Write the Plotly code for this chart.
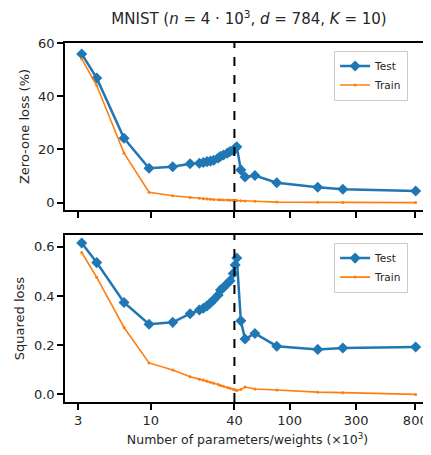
import plotly.graph_objects as go
from plotly.subplots import make_subplots

# Data (parameters in thousands)
params = [3.19, 4.09, 6.43, 9.73, 14.4, 19.2, 22.4, 23.9, 25.4, 26.9, 28.4, 30.6, 31.8,
          33.4, 35.6, 37.2, 39.2, 40.5, 41.6, 44.5, 47.7, 56.2, 80.7, 159, 241, 805]
zero_one_test = [55.9, 46.8, 24.2, 12.9, 13.5, 14.6, 14.8, 15.1, 15.4, 15.6, 15.9, 16.8, 17.4,
                 17.9, 18.6, 19.2, 19.6, 20.4, 21.0, 12.3, 9.6, 10.2, 7.5, 5.8, 5.0, 4.4]
zero_one_train = [54.0, 44.0, 18.6, 3.9, 2.6, 1.9, 1.6, 1.5, 1.4, 1.3, 1.2, 1.1, 1.1,
                  1.0, 1.0, 0.9, 0.9, 0.9, 0.8, 0.7, 0.6, 0.5, 0.2, 0.1, 0.05, 0.0]
squared_test = [0.616, 0.536, 0.374, 0.285, 0.293, 0.328, 0.343, 0.350, 0.360, 0.372, 0.385, 0.404, 0.425,
                0.435, 0.451, 0.462, 0.492, 0.526, 0.555, 0.299, 0.225, 0.248, 0.196, 0.183, 0.189, 0.193]
squared_train = [0.577, 0.476, 0.272, 0.128, 0.099, 0.072, 0.062, 0.058, 0.053, 0.049, 0.045, 0.040, 0.036,
                 0.033, 0.028, 0.025, 0.021, 0.019, 0.016, 0.020, 0.030, 0.022, 0.018, 0.009, 0.007, 0.0]
threshold = 40
x_ticks = [3, 10, 40, 100, 300, 800]
top_yticks = [0, 20, 40, 60]
bottom_yticks = [0.0, 0.2, 0.4, 0.6]

BLUE = "#1f77b4"
ORANGE = "#ff7f0e"
TXT = "#262626"
FONT = "DejaVu Sans"

# page body has an 8px default margin; size the figure so it fits the window
W, H = 423, 447

fig = make_subplots(rows=2, cols=1, shared_xaxes=False, vertical_spacing=0.0)

for row, test, train, leg in [(1, zero_one_test, zero_one_train, "legend"),
                              (2, squared_test, squared_train, "legend2")]:
    fig.add_trace(go.Scatter(x=params, y=test, mode="lines+markers", name="Test",
                             line=dict(color=BLUE, width=2.5),
                             marker=dict(symbol="diamond", size=8.5, color=BLUE),
                             legend=leg), row=row, col=1)
    fig.add_trace(go.Scatter(x=params, y=train, mode="lines+markers", name="Train",
                             line=dict(color=ORANGE, width=1.6),
                             marker=dict(symbol="circle", size=3, color=ORANGE),
                             legend=leg), row=row, col=1)

axis_common = dict(showline=True, linecolor="black", linewidth=1.5, mirror=True,
                   ticks="outside", ticklen=6, tickwidth=1.5, tickcolor="black",
                   showgrid=False, zeroline=False, automargin=False,
                   tickfont=dict(family=FONT, size=13, color=TXT))

xr = [0.3835, 3.009]
fig.update_layout(
    xaxis=dict(type="log", range=xr, tickvals=x_ticks, showticklabels=False,
               domain=[0, 1], anchor="y", **axis_common),
    xaxis2=dict(type="log", range=xr, tickvals=x_ticks, ticktext=[str(t) for t in x_ticks],
                domain=[0, 1], anchor="y2",
                title=dict(text="Number of parameters/weights (×10<sup>3</sup>)",
                           font=dict(family=FONT, size=12.5, color=TXT), standoff=8),
                **axis_common),
    yaxis=dict(range=[-2.75, 60], tickvals=top_yticks, domain=[0.535, 1], anchor="x",
               title=dict(text="Zero-one loss (%)", font=dict(family=FONT, size=13, color=TXT),
                          standoff=6),
               **axis_common),
    yaxis2=dict(range=[-0.031, 0.648], tickvals=bottom_yticks, tickformat=".1f",
                domain=[0, 0.465], anchor="x2",
                title=dict(text="Squared loss", font=dict(family=FONT, size=13, color=TXT),
                           standoff=6),
                **axis_common),
)

for xref, yref in [("x", "y domain"), ("x2", "y2 domain")]:
    fig.add_shape(type="line", x0=threshold, x1=threshold, y0=0, y1=1, xref=xref, yref=yref,
                  line=dict(color="black", width=2, dash="dash"), layer="above")

legend_style = dict(xanchor="right", yanchor="top", bgcolor="rgba(255,255,255,0.85)",
                    bordercolor="#cccccc", borderwidth=1,
                    font=dict(family=FONT, size=10.5, color=TXT),
                    tracegroupgap=0, itemwidth=30)

fig.update_layout(
    width=W, height=H,
    margin=dict(l=57, r=1, t=35, b=53, autoexpand=False),
    paper_bgcolor="white", plot_bgcolor="white",
    font=dict(family=FONT, size=12, color=TXT),
    title=dict(text="MNIST (<i>n</i> = 4 · 10<sup>3</sup>, <i>d</i> = 784, <i>K</i> = 10)",
               x=241 / W, xanchor="center",
               y=1 - 11 / H, yanchor="middle",
               font=dict(family=FONT, size=15, color=TXT)),
    showlegend=True,
    legend=dict(x=0.94, y=0.979, **legend_style),
    legend2=dict(x=0.94, y=0.444, **legend_style),
)

fig.write_html("out.html")
